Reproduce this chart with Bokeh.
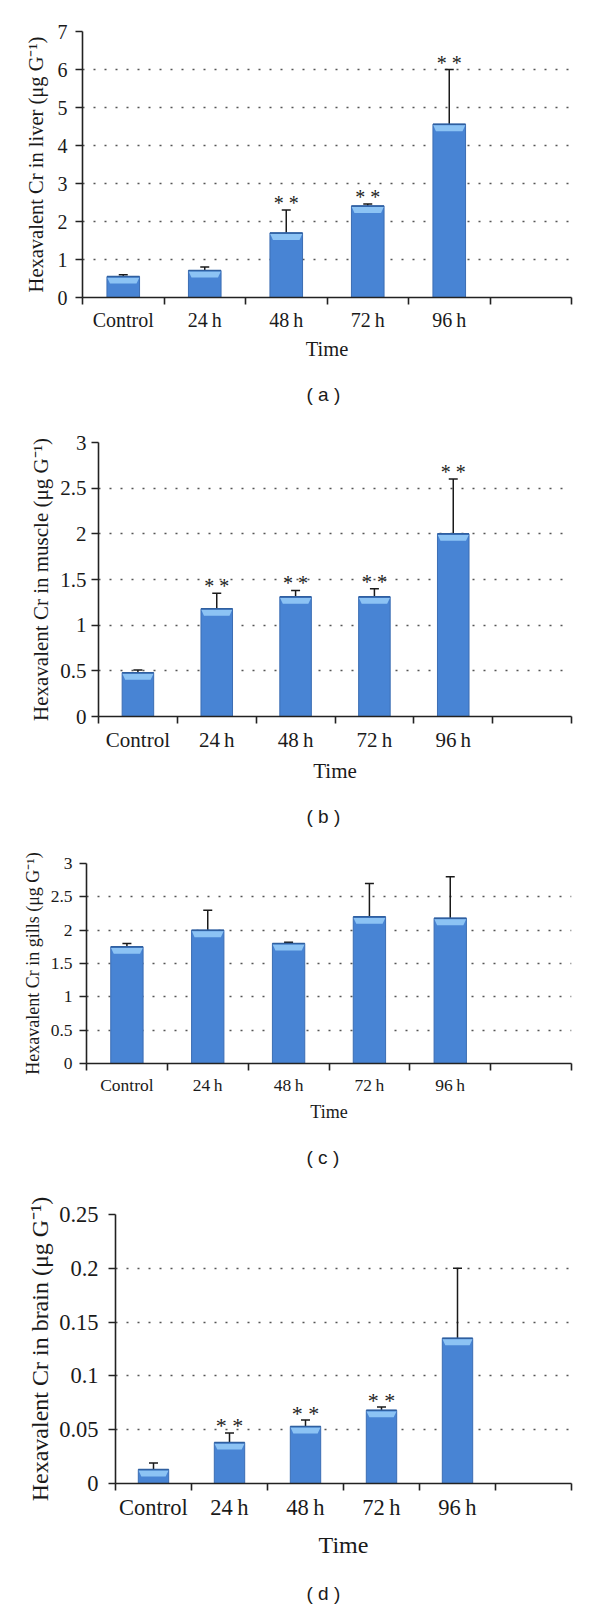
from bokeh.plotting import figure
from bokeh.models import (FixedTicker, Whisker, ColumnDataSource, TeeHead, Title,
                          CustomJSTickFormatter)
from bokeh.core.properties import value
from bokeh.embed import file_html
from bokeh.resources import INLINE

# ---------------- data ----------------
categories = ["Control", "24\u2009h", "48\u2009h", "72\u2009h", "96\u2009h"]
slots = categories + [""]  # the axis has one empty slot at the right

liver = [0.55, 0.71, 1.70, 2.41, 4.56]
liver_sd = [0.05, 0.09, 0.60, 0.05, 1.44]
liver_sig = ["", "", "* *", "* *", "* *"]

muscle = [0.48, 1.18, 1.31, 1.31, 2.00]
muscle_sd = [0.03, 0.17, 0.07, 0.09, 0.60]
muscle_sig = ["", "* *", "* *", "* *", "* *"]

gills = [1.75, 2.00, 1.80, 2.20, 2.18]
gills_sd = [0.05, 0.30, 0.02, 0.50, 0.62]
gills_sig = ["", "", "", "", ""]

brain = [0.013, 0.038, 0.053, 0.068, 0.135]
brain_sd = [0.006, 0.009, 0.006, 0.003, 0.065]
brain_sig = ["", "* *", "* *", "* *", ""]

ticks_a = [0, 1, 2, 3, 4, 5, 6, 7]
labels_a = ["0", "1", "2", "3", "4", "5", "6", "7"]
ticks_b = [0, 0.5, 1, 1.5, 2, 2.5, 3]
labels_b = ["0", "0.5", "1", "1.5", "2", "2.5", "3"]
ticks_c = [0, 0.5, 1, 1.5, 2, 2.5, 3]
labels_c = ["0", "0.5", "1", "1.5", "2", "2.5", "3"]
ticks_d = [0, 0.05, 0.1, 0.15, 0.2, 0.25]
labels_d = ["0", "0.05", "0.1", "0.15", "0.2", "0.25"]

ylabel_a = "Hexavalent Cr in liver (\u03bcg G\u207b\u00b9)"
ylabel_b = "Hexavalent Cr in muscle (\u03bcg G\u207b\u00b9)"
ylabel_c = "Hexavalent Cr in gills (\u03bcg G\u207b\u00b9)"
ylabel_d = "Hexavalent Cr in brain (\u03bcg G\u207b\u00b9)"
xlabel = "Time"
panel_tags = ["( a )", "( b )", "( c )", "( d )"]

BAR = "#4884d4"
BAR_LINE = "#3b6db3"
HILITE = "#8cc3f4"
INK = "#1a1a1a"
SERIF = "Liberation Serif"

TICK_FMT_CODE = """
let k = -1;
for (let i = 0; i < tv.length; i++) { if (Math.abs(tv[i] - tick) < 1e-9) { k = i; } }
return k >= 0 ? tl[k] : "";
"""


def make_panel(vals, sd, sig, yticks, ylabels, ylab, tag,
               fig_top, fig_bot, f_left, f_top, f_bot, tag_left, spacer_px,
               tick_fs, lab_fs, star_fs, ytick_standoff, ylab_standoff,
               xtick_standoff, xlab_standoff):
    width = 592
    height = fig_bot - fig_top
    left = f_left
    right = 21
    top = f_top - fig_top
    bottom = fig_bot - f_bot
    ymax = yticks[-1]
    n = len(slots)
    p = figure(width=width, height=height, x_range=(0, n), y_range=(0, ymax),
               output_backend="svg", toolbar_location=None,
               min_border_left=left, min_border_right=right,
               min_border_top=top, min_border_bottom=bottom)
    p.outline_line_color = None
    p.background_fill_color = "white"
    p.border_fill_color = "white"

    frame_w = width - left - right
    frame_h = height - top - bottom
    xs = [i + 0.5 for i in range(len(categories))]
    ups = [v + s for v, s in zip(vals, sd)]
    src = ColumnDataSource(dict(x=xs, val=vals, up=ups, star=sig))

    bw = 0.4
    p.vbar(x="x", top="val", width=bw, source=src, fill_color=BAR,
           line_color=BAR_LINE, line_width=1)
    band = 7.0 * ymax / frame_h
    inset = 3.0 * n / frame_w
    hx, hy = [], []
    for x, v in zip(xs, vals):
        hx.append([x - bw / 2 + 0.004, x + bw / 2 - 0.004, x + bw / 2 - inset, x - bw / 2 + inset])
        hy.append([v - 0.15 * band, v - 0.15 * band, v - band, v - band])
    p.patches(xs=hx, ys=hy, fill_color=HILITE, line_color=None)
    p.segment(x0=[x - bw / 2 for x in xs], x1=[x + bw / 2 for x in xs],
              y0=vals, y1=vals, line_color="#2f5f9f", line_width=1.5)

    w = Whisker(source=src, base="x", upper="up", lower="val", dimension="height",
                line_color=INK, line_width=1.5,
                upper_head=TeeHead(size=9, line_color=INK, line_width=1.5),
                lower_head=None)
    p.add_layout(w)

    p.text(x="x", y="up", text="star", source=src, text_align="center",
           text_baseline="alphabetic", text_font=value(SERIF),
           text_font_size=f"{star_fs}px", text_color="#222222", y_offset=-7)

    p.xaxis.ticker = FixedTicker(ticks=xs, minor_ticks=list(range(n + 1)))
    p.xaxis.formatter = CustomJSTickFormatter(args=dict(tv=xs, tl=categories),
                                              code=TICK_FMT_CODE)
    p.xaxis.major_tick_out = 0
    p.xaxis.major_tick_in = 0
    p.xaxis.minor_tick_out = 7
    p.xaxis.minor_tick_in = 0
    p.xaxis.axis_label = xlabel

    p.yaxis.ticker = FixedTicker(ticks=yticks, minor_ticks=[])
    p.yaxis.formatter = CustomJSTickFormatter(args=dict(tv=yticks, tl=ylabels),
                                              code=TICK_FMT_CODE)
    p.yaxis.major_tick_out = 7
    p.yaxis.major_tick_in = 0
    p.yaxis.axis_label = ylab

    for ax, st, lst in ((p.xaxis, xtick_standoff, xlab_standoff),
                        (p.yaxis, ytick_standoff, ylab_standoff)):
        ax.axis_line_color = "#222222"
        ax.axis_line_width = 1.6
        ax.major_tick_line_color = "#222222"
        ax.major_tick_line_width = 1.6
        ax.minor_tick_line_color = "#222222"
        ax.minor_tick_line_width = 1.6
        ax.major_label_text_font = SERIF
        ax.major_label_text_font_size = f"{tick_fs}px"
        ax.major_label_text_color = "#1a1a1a"
        ax.major_label_standoff = st
        ax.axis_label_text_font = SERIF
        ax.axis_label_text_font_size = f"{lab_fs}px"
        ax.axis_label_text_font_style = "normal"
        ax.axis_label_text_color = "#1a1a1a"
        ax.axis_label_standoff = lst

    p.xgrid.visible = False
    p.ygrid.grid_line_color = "#555555"
    p.ygrid.grid_line_width = 1.6
    p.ygrid.grid_line_dash = "2 9"

    # blank spacer between the x-axis title and the panel tag
    p.add_layout(Title(text=" ", standoff=0, text_font="Liberation Sans",
                       text_font_size=f"{spacer_px}px"), "below")
    t = Title(text=tag, align="left", offset=tag_left - f_left, vertical_align="top",
              text_font="Liberation Sans", text_font_size="19px",
              text_font_style="normal", text_color="#1a1a1a", standoff=0)
    p.add_layout(t, "below")
    return p


pa = make_panel(liver, liver_sd, liver_sig, ticks_a, labels_a, ylabel_a, panel_tags[0],
                fig_top=0, fig_bot=420, f_left=82, f_top=31, f_bot=297, tag_left=306,
                spacer_px=17, tick_fs=20, lab_fs=20.5, star_fs=20,
                ytick_standoff=8, ylab_standoff=8, xtick_standoff=4, xlab_standoff=4)
pb = make_panel(muscle, muscle_sd, muscle_sig, ticks_b, labels_b, ylabel_b, panel_tags[1],
                fig_top=420, fig_bot=836, f_left=98, f_top=442, f_bot=716, tag_left=306,
                spacer_px=16.5, tick_fs=21, lab_fs=21, star_fs=20,
                ytick_standoff=5, ylab_standoff=4, xtick_standoff=4, xlab_standoff=4)
pc = make_panel(gills, gills_sd, gills_sig, ticks_c, labels_c, ylabel_c, panel_tags[2],
                fig_top=836, fig_bot=1187, f_left=86, f_top=863, f_bot=1063, tag_left=306,
                spacer_px=18, tick_fs=17.5, lab_fs=18, star_fs=20,
                ytick_standoff=7, ylab_standoff=5, xtick_standoff=4, xlab_standoff=4)
pd_ = make_panel(brain, brain_sd, brain_sig, ticks_d, labels_d, ylabel_d, panel_tags[3],
                 fig_top=1187, fig_bot=1612, f_left=115, f_top=1214, f_bot=1483, tag_left=306,
                 spacer_px=18, tick_fs=22.5, lab_fs=24, star_fs=22,
                 ytick_standoff=10, ylab_standoff=3, xtick_standoff=4, xlab_standoff=9)

open("out.html", "w").write(file_html([pa, pb, pc, pd_], INLINE))
